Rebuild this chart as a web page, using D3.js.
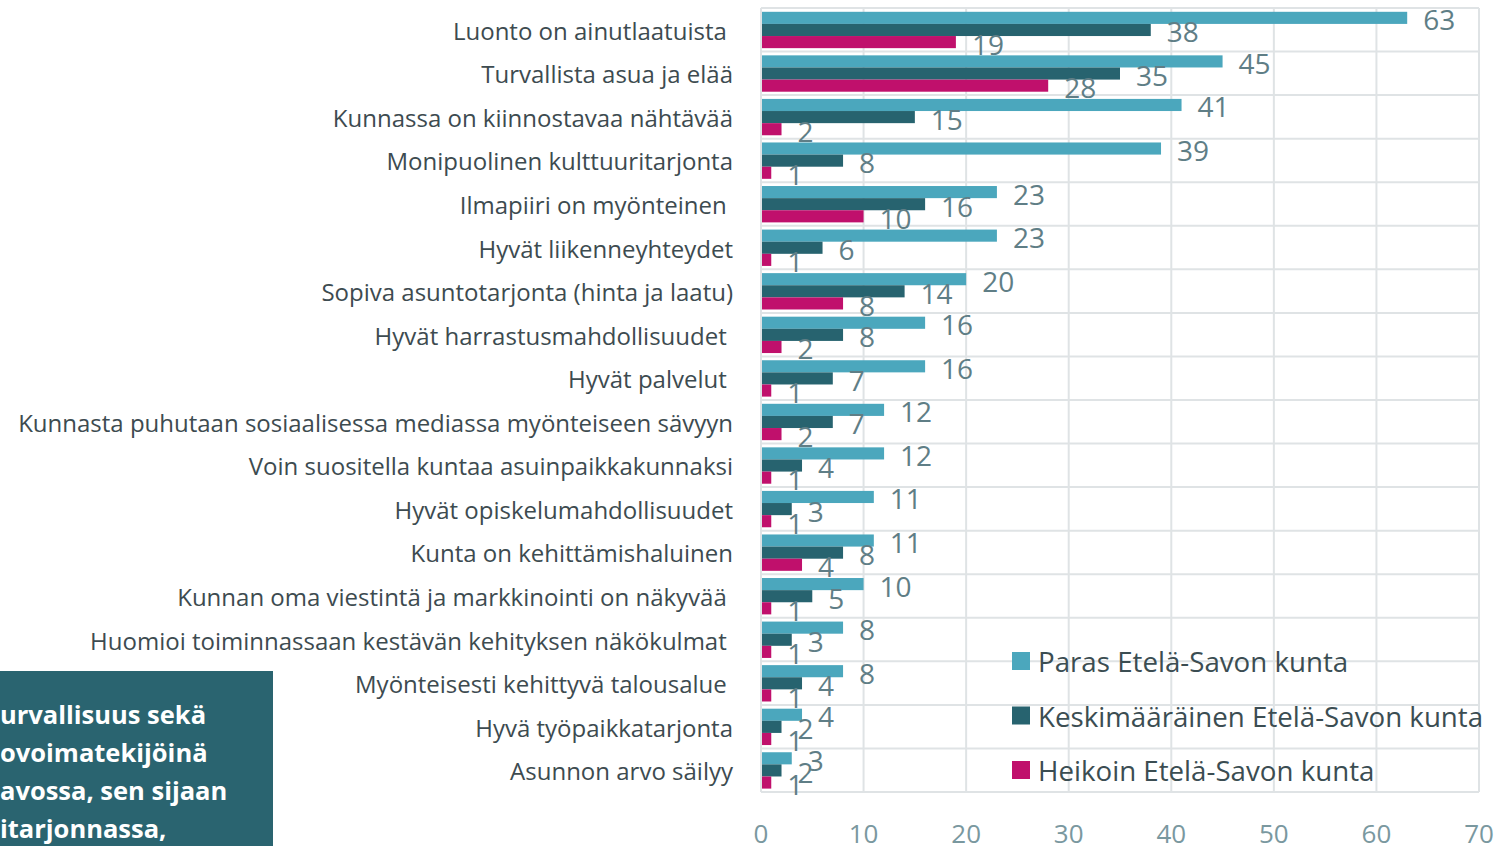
<!DOCTYPE html>
<html>
<head>
<meta charset="utf-8">
<script src="https://cdn.jsdelivr.net/npm/d3@7"></script>
<style>
  body { margin: 0; background: #fff; }
  svg { display: block; font-family: 'Open Sans', sans-serif; }
  .cat-label { white-space: pre; }
</style>
</head>
<body>
<svg width="1496" height="846"></svg>
<script>
var svg = d3.select('svg');

// Chart data
var categories = [
    'Luonto on ainutlaatuista ',
    'Turvallista asua ja elää',
    'Kunnassa on kiinnostavaa nähtävää',
    'Monipuolinen kulttuuritarjonta',
    'Ilmapiiri on myönteinen ',
    'Hyvät liikenneyhteydet',
    'Sopiva asuntotarjonta (hinta ja laatu)',
    'Hyvät harrastusmahdollisuudet ',
    'Hyvät palvelut ',
    'Kunnasta puhutaan sosiaalisessa mediassa myönteiseen sävyyn',
    'Voin suositella kuntaa asuinpaikkakunnaksi',
    'Hyvät opiskelumahdollisuudet',
    'Kunta on kehittämishaluinen',
    'Kunnan oma viestintä ja markkinointi on näkyvää ',
    'Huomioi toiminnassaan kestävän kehityksen näkökulmat ',
    'Myönteisesti kehittyvä talousalue ',
    'Hyvä työpaikkatarjonta',
    'Asunnon arvo säilyy'
];
var seriesNames = ['Paras Etelä-Savon kunta', 'Keskimääräinen Etelä-Savon kunta', 'Heikoin Etelä-Savon kunta'];
var parasValues = [63, 45, 41, 39, 23, 23, 20, 16, 16, 12, 12, 11, 11, 10, 8, 8, 4, 3];
var keskiValues = [38, 35, 15, 8, 16, 6, 14, 8, 7, 7, 4, 3, 8, 5, 3, 4, 2, 2];
var heikoinValues = [19, 28, 2, 1, 10, 1, 8, 2, 1, 2, 1, 1, 4, 1, 1, 1, 1, 1];
var xTicks = [0, 10, 20, 30, 40, 50, 60, 70];
var boxLines = ['urvallisuus sekä', 'ovoimatekijöinä', 'avossa, sen sijaan', 'itarjonnassa,'];

var seriesColors = ['#4ba7bd', '#27636f', '#c0106c'];
var seriesValues = [parasValues, keskiValues, heikoinValues];

// Layout
var plot = {l: 761, r: 1479, t: 8, b: 792};
var gridColor = '#dfe3e5';

var xScale = d3.scaleLinear().domain([0, 70]).range([plot.l, plot.r]);
var yScale = d3.scaleBand().domain(categories).range([plot.t, plot.b]);
var bw = yScale.bandwidth();
var subScale = d3.scaleBand().domain(d3.range(3)).range([3.8, bw - 3.4]);

// Gridlines: vertical
svg.append('g')
    .selectAll('line')
    .data(xTicks)
    .enter()
    .append('line')
    .attr('x1', function(d) { return xScale(d); })
    .attr('x2', function(d) { return xScale(d); })
    .attr('y1', plot.t)
    .attr('y2', plot.b)
    .attr('stroke', gridColor)
    .attr('stroke-width', 2);

// Gridlines: horizontal band boundaries
var bounds = categories.map(function(c) { return yScale(c); }).concat([plot.b]);
svg.append('g')
    .selectAll('line')
    .data(bounds)
    .enter()
    .append('line')
    .attr('x1', plot.l)
    .attr('x2', plot.r)
    .attr('y1', function(d) { return d; })
    .attr('y2', function(d) { return d; })
    .attr('stroke', gridColor)
    .attr('stroke-width', 2);

// Bars
var rows = categories.map(function(c, i) {
    return {cat: c, vals: seriesValues.map(function(s) { return s[i]; })};
});

var groups = svg.append('g')
    .selectAll('g')
    .data(rows)
    .enter()
    .append('g')
    .attr('transform', function(d) { return 'translate(0,' + yScale(d.cat) + ')'; });

groups.selectAll('rect')
    .data(function(d) { return d.vals; })
    .enter()
    .append('rect')
    .attr('x', xScale(0) + 1)
    .attr('y', function(d, i) { return subScale(i); })
    .attr('width', function(d) { return xScale(d) - xScale(0) - 1; })
    .attr('height', subScale.bandwidth())
    .attr('fill', function(d, i) { return seriesColors[i]; });

// Value labels
groups.selectAll('text')
    .data(function(d) { return d.vals; })
    .enter()
    .append('text')
    .attr('x', function(d) { return xScale(d) + 16; })
    .attr('y', function(d, i) { return subScale(i) + subScale.bandwidth() / 2 + 1.5; })
    .attr('dominant-baseline', 'central')
    .attr('font-size', 28)
    .attr('fill', '#5f7e86')
    .text(function(d) { return d; });

// Category labels
svg.append('g')
    .selectAll('text')
    .data(categories)
    .enter()
    .append('text')
    .attr('class', 'cat-label')
    .attr('x', 733)
    .attr('y', function(d) { return yScale(d) + bw / 2 + 0.5; })
    .attr('text-anchor', 'end')
    .attr('dominant-baseline', 'central')
    .attr('font-size', 24)
    .attr('fill', '#3d4b50')
    .text(function(d) { return d; });

// X axis tick labels
svg.append('g')
    .selectAll('text')
    .data(xTicks)
    .enter()
    .append('text')
    .attr('x', function(d) { return xScale(d); })
    .attr('y', 833)
    .attr('text-anchor', 'middle')
    .attr('dominant-baseline', 'central')
    .attr('font-size', 26)
    .attr('fill', '#7a989f')
    .text(function(d) { return d; });

// Legend
var legend = svg.append('g')
    .selectAll('g')
    .data(seriesNames)
    .enter()
    .append('g')
    .attr('transform', function(d, i) { return 'translate(1012,' + (661 + i * 54.5) + ')'; });

legend.append('rect')
    .attr('x', 0)
    .attr('y', -9)
    .attr('width', 18)
    .attr('height', 18)
    .attr('fill', function(d, i) { return seriesColors[i]; });

legend.append('text')
    .attr('x', 26)
    .attr('y', 0)
    .attr('dominant-baseline', 'central')
    .attr('font-size', 27.7)
    .attr('fill', '#3b4d52')
    .text(function(d) { return d; });

// Cut-off text box at bottom left
svg.append('rect')
    .attr('x', 0)
    .attr('y', 671)
    .attr('width', 273)
    .attr('height', 175)
    .attr('fill', '#2a6470');

svg.append('g')
    .selectAll('text')
    .data(boxLines)
    .enter()
    .append('text')
    .attr('x', 0)
    .attr('y', function(d, i) { return 714 + i * 38; })
    .attr('dominant-baseline', 'central')
    .attr('font-size', 25.5)
    .attr('font-weight', 'bold')
    .attr('fill', '#ffffff')
    .text(function(d) { return d; });
</script>
</body>
</html>
